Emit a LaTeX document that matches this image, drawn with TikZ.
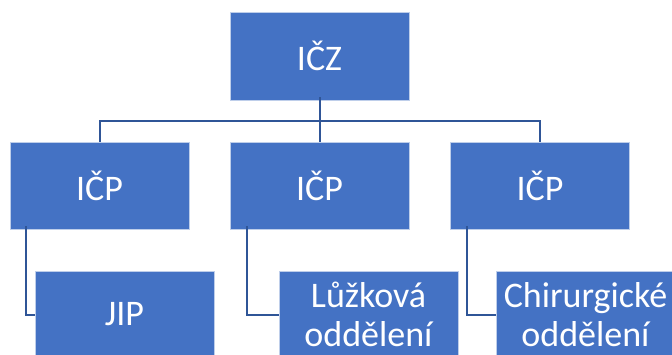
\documentclass[tikz,border=0pt]{standalone}
\usepackage{fontspec}
\setmainfont{Carlito}
\definecolor{boxblue}{HTML}{4472C4}
\definecolor{linkblue}{HTML}{2F5597}
\begin{document}
\begin{tikzpicture}[x=1pt,y=-1pt,
  unit/.style={rectangle, fill=boxblue, draw=white!65!boxblue, line width=0.8pt,
    minimum width=179pt, minimum height=87pt, inner sep=0pt, text=white,
    align=center, font=\fontsize{36}{39}\selectfont},
  link/.style={draw=linkblue, line width=2pt}]
\clip (0,0) rectangle (672,354);
\fill[white] (0,0) rectangle (672,354);
\node[unit, minimum height=88pt] (top) at (319.5,56) {IČZ};
\node[unit] (m1) at (99.5,185.5) {IČP};
\node[unit] (m2) at (319.5,185.5) {IČP};
\node[unit] (m3) at (540,185.5) {IČP};
\node[unit] (b1) at (124.5,314.5) {JIP};
\node[unit] (b2) at (368.5,314.5) {Lůžková\\oddělení};
\node[unit] (b3) at (585.5,314.5) {Chirurgické\\oddělení};
\coordinate (hub) at (319.5,120.5);
\draw[link] ([yshift=3pt]top.south) -- (hub);
\draw[link] (m1.north) |- (hub) -| (m3.north);
\draw[link] (hub) -- (m2.north);
\draw[link] ([xshift=16.5pt,yshift=3pt]m1.south west) |- (b1.west);
\draw[link] ([xshift=17pt,yshift=3pt]m2.south west) |- (b2.west);
\draw[link] ([xshift=16.5pt,yshift=3pt]m3.south west) |- (b3.west);
\end{tikzpicture}
\end{document}
